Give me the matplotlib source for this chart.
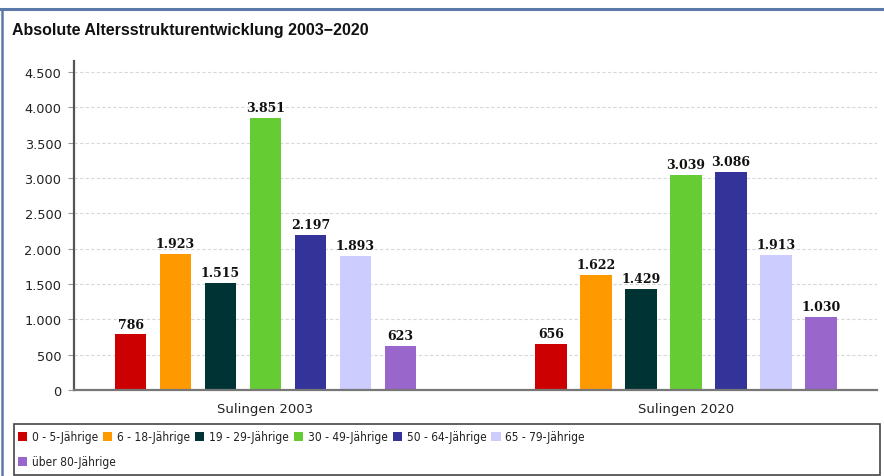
import matplotlib
matplotlib.use("Agg")
import matplotlib.pyplot as plt
from matplotlib.patches import Rectangle, Patch
from matplotlib.lines import Line2D
from matplotlib.ticker import FuncFormatter, MultipleLocator
import numpy as np

categories = ["Sulingen 2003", "Sulingen 2020"]
series_names = ["0 - 5-Jährige", "6 - 18-Jährige", "19 - 29-Jährige", "30 - 49-Jährige",
                "50 - 64-Jährige", "65 - 79-Jährige", "über 80-Jährige"]
values_2003 = [786, 1923, 1515, 3851, 2197, 1893, 623]
values_2020 = [656, 1622, 1429, 3039, 3086, 1913, 1030]
colors = ["#CC0000", "#FF9900", "#003333", "#66CC33", "#333399", "#CCCCFF", "#9966CC"]
title = "Absolute Altersstrukturentwicklung 2003\u22122020"

W, H = 884, 477
fig = plt.figure(figsize=(W / 100, H / 100), dpi=100)

ax = fig.add_axes([74 / W, 1 - 391 / H, (877 - 74) / W, 328.6 / H])
x = np.arange(len(categories))
slot = 0.107
bw = 0.076
n = len(series_names)
for i, name in enumerate(series_names):
    vals = [values_2003[i], values_2020[i]]
    pos = x + (i - (n - 1) / 2) * slot
    bars = ax.bar(pos, vals, width=bw, color=colors[i], zorder=3, label=name)
    for b, v in zip(bars, vals):
        ax.text(b.get_x() + b.get_width() / 2, v + 55, f"{v:,}".replace(",", "."),
                ha="center", va="bottom", fontsize=9, fontweight="bold",
                family="DejaVu Serif", color="#111111", zorder=4)

ax.set_xlim(-0.4554, 1.4542)
ax.set_ylim(0, 4650)
ax.yaxis.set_major_locator(MultipleLocator(500))
ax.yaxis.set_major_formatter(FuncFormatter(lambda v, p: f"{int(v):,}".replace(",", ".")))
ax.set_xticks(x)
ax.set_xticklabels(categories)
ax.tick_params(axis="x", length=0, pad=9, labelsize=9.5, labelcolor="#222222")
ax.tick_params(axis="y", length=4, width=0.8, color="#999999", pad=5, labelsize=9.3,
               labelcolor="#222222")
for lab in ax.get_yticklabels():
    lab.set_family("DejaVu Sans")
ax.grid(axis="y", color="#d8d8d8", linestyle=(0, (3, 2)), linewidth=0.8, zorder=0)
ax.set_axisbelow(True)
for s in ["top", "right"]:
    ax.spines[s].set_visible(False)
ax.spines["left"].set_color("#555555")
ax.spines["left"].set_linewidth(1.6)
ax.spines["bottom"].set_color("#777777")
ax.spines["bottom"].set_linewidth(1.6)
ax.spines["bottom"].set_linestyle((0, (3, 1)))
ax.spines["bottom"].set_zorder(5)

# title
fig.text(12 / W, 1 - 31 / H, title, fontsize=11.5, fontweight="bold",
         family="Liberation Sans", color="#111111", va="center", ha="left")

# outer frame lines
fig.add_artist(Line2D([0, 1], [1 - 9.5 / H, 1 - 9.5 / H], color="#5a78a8", linewidth=2.2,
                      transform=fig.transFigure))
fig.add_artist(Line2D([1.5 / W, 1.5 / W], [0, 1 - 9.5 / H], color="#5a78a8", linewidth=1.8,
                      transform=fig.transFigure))

# legend frame
fig.add_artist(Rectangle((14 / W, 1 / H), (880 - 14) / W, 51 / H,
                         transform=fig.transFigure, fill=False, edgecolor="#444444",
                         linewidth=1.2))

handles = [Patch(facecolor=c, edgecolor="none") for c in colors]
common = dict(frameon=False, fontsize=8.6, handlelength=0.78, handleheight=0.78,
              handletextpad=0.4, borderpad=0, borderaxespad=0)
leg1 = fig.legend(handles[:6], series_names[:6], ncol=6, loc="center left",
                  bbox_to_anchor=(18 / W, 1 - 438 / H), columnspacing=0.4, **common)
leg2 = fig.legend(handles[6:], series_names[6:], ncol=1, loc="center left",
                  bbox_to_anchor=(18 / W, 1 - 463 / H), **common)
for leg in (leg1, leg2):
    for t in leg.get_texts():
        t.set_color("#222222")
        t.set_family("DejaVu Sans")
        t.set_stretch("condensed")

fig.savefig("out.png", dpi=100)
